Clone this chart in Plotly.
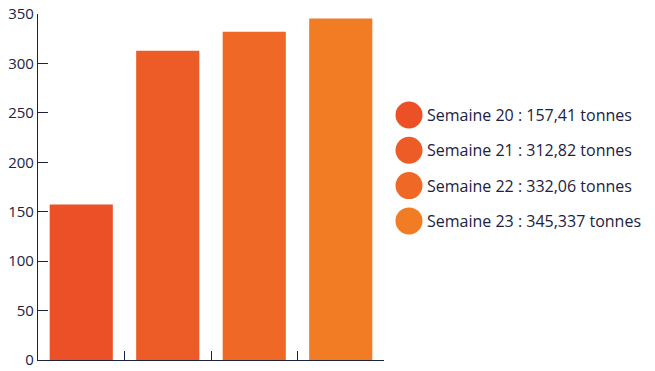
import plotly.graph_objects as go

weeks = ["Semaine 20", "Semaine 21", "Semaine 22", "Semaine 23"]
values = [157.41, 312.82, 332.06, 345.337]
value_labels = ["157,41", "312,82", "332,06", "345,337"]
colors = ["#EC5027", "#ED5B26", "#EF6826", "#F27C23"]
y_ticks = [0, 50, 100, 150, 200, 250, 300, 350]

ink = "#1B2242"
FONT = "Open Sans"
W, H = 655, 371
fig = go.Figure()
fig.add_trace(go.Bar(x=weeks, y=values, marker=dict(color=colors, line=dict(width=0)),
                     showlegend=False, hoverinfo="x+y"))

L, R, T, B = 38, 384, 14, 360
shapes = []
annotations = []
legend_y0 = 115
step = 35.3
for i, (w, v) in enumerate(zip(weeks, value_labels)):
    yc = legend_y0 + i * step
    yp = 1 - (yc - T) / (B - T)
    shapes.append(dict(type="circle", xref="paper", yref="paper", xsizemode="pixel", ysizemode="pixel",
                       xanchor=(409 - L) / (R - L), yanchor=yp, x0=-13.5, x1=13.5, y0=-13.5, y1=13.5,
                       fillcolor=colors[i], line=dict(width=0)))
    annotations.append(dict(xref="paper", yref="paper", x=(425 - L) / (R - L), y=yp,
                            xanchor="left", yanchor="middle", showarrow=False,
                            text=f"{w} : {v} tonnes", font=dict(size=16, color=ink, family=FONT)))

fig.update_layout(
    width=W, height=H,
    margin=dict(l=L, r=W - R, t=T, b=H - B),
    plot_bgcolor="white", paper_bgcolor="white",
    font=dict(family=FONT, color=ink, size=14),
    bargap=0.27,
    shapes=shapes, annotations=annotations,
    xaxis=dict(showline=True, linecolor=ink, linewidth=1.2, ticks="inside", tickson="boundaries",
               ticklen=9, tickcolor=ink, showticklabels=False, showgrid=False, zeroline=False,
               automargin=False),
    yaxis=dict(range=[0, 350], tickvals=y_ticks, showline=True, linecolor=ink, linewidth=1.2,
               ticks="inside", ticklen=10, tickcolor=ink, showgrid=False, zeroline=False,
               tickfont=dict(size=15, color=ink, family=FONT), automargin=False,
               ticklabeloverflow="allow"),
)
fig.write_html("out.html", config={"displayModeBar": False},
               post_script="document.body.style.margin='0px';document.body.style.overflow='hidden';")
